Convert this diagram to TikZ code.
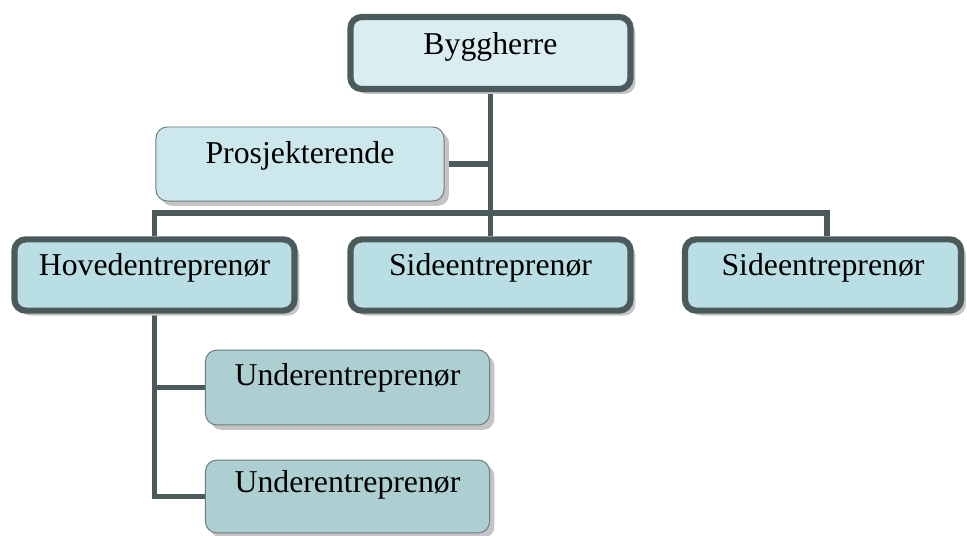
\documentclass[tikz,border=0pt]{standalone}
\usepackage{fontspec}
\setmainfont{Liberation Serif}
\usetikzlibrary{positioning,shadows,backgrounds}
\definecolor{OrgLine}{HTML}{4B5B5C}
\definecolor{OrgEdge}{HTML}{6E7C7E}
\definecolor{OrgShadow}{HTML}{C4C4C4}
\definecolor{OrgTopFill}{HTML}{DAEEF2}
\definecolor{OrgMidFill}{HTML}{CCE8EC}
\definecolor{OrgLevelFill}{HTML}{B9DFE4}
\definecolor{OrgSubFill}{HTML}{ADCFD2}
\tikzset{
  orgbase/.style={
    rounded corners=8pt,
    align=center,
    inner sep=0pt,
    text height=0.7em,
    font=\fontsize{22.6}{26}\selectfont,
    drop shadow={shadow xshift=3.5pt,shadow yshift=-3.5pt,fill=OrgShadow,opacity=1}
  },
  orgthick/.style={
    orgbase,
    draw=OrgLine,
    line width=4.4pt,
    minimum width=7cm,
    minimum height=1.78cm
  },
  orgthin/.style={
    orgbase,
    draw=OrgEdge,
    line width=0.7pt,
    minimum width=7.2cm,
    minimum height=1.85cm
  },
  orgflow/.style={draw=OrgLine,line width=3.9pt}
}

\begin{document}
\begin{tikzpicture}[x=0.025cm,y=-0.025cm]
  \useasboundingbox (0,0) rectangle (967,535);
  \node[orgthick,fill=OrgTopFill,text depth=0.5em,minimum height=1.8cm] (bygg) at (490.5,53) {Byggherre};
  \node[orgthin,fill=OrgMidFill,text depth=0.83em] (pros) at (300,164) {Prosjekterende};
  \node[orgthick,fill=OrgLevelFill,text depth=0.7em] (hoved) at (154.5,275) {Hovedentreprenør};
  \node[orgthick,fill=OrgLevelFill,text depth=0.7em] (side1) at (490.5,275) {Sideentreprenør};
  \node[orgthick,fill=OrgLevelFill,text depth=0.7em,minimum width=6.9cm] (side2) at (823,275) {Sideentreprenør};
  \node[orgthin,fill=OrgSubFill,text depth=1.02em,minimum width=7.1cm,minimum height=1.87cm] (under1) at (347.5,387.5) {Underentreprenør};
  \node[orgthin,fill=OrgSubFill,text depth=1.31em,minimum width=7.1cm,minimum height=1.82cm] (under2) at (347.5,496.5) {Underentreprenør};

  % bus line between the levels
  \coordinate (bus) at (490,213);
  \coordinate (side2top) at ([xshift=0.1cm]side2.north);
  \coordinate (prosjoin) at (pros.east -| bygg.south);

  \begin{scope}[on background layer]
    \fill[white] (0,0) rectangle (967,535);
    \draw[orgflow] (bygg.south) -- (side1.north);
    \draw[orgflow] (hoved.north) |- (bus) -| (side2top);
    \draw[orgflow] (pros.east) -- (prosjoin);
    \draw[orgflow] (hoved.south) |- (under2.west);
    \draw[orgflow] (hoved.south |- under1.west) -- (under1.west);
  \end{scope}
\end{tikzpicture}
\end{document}
